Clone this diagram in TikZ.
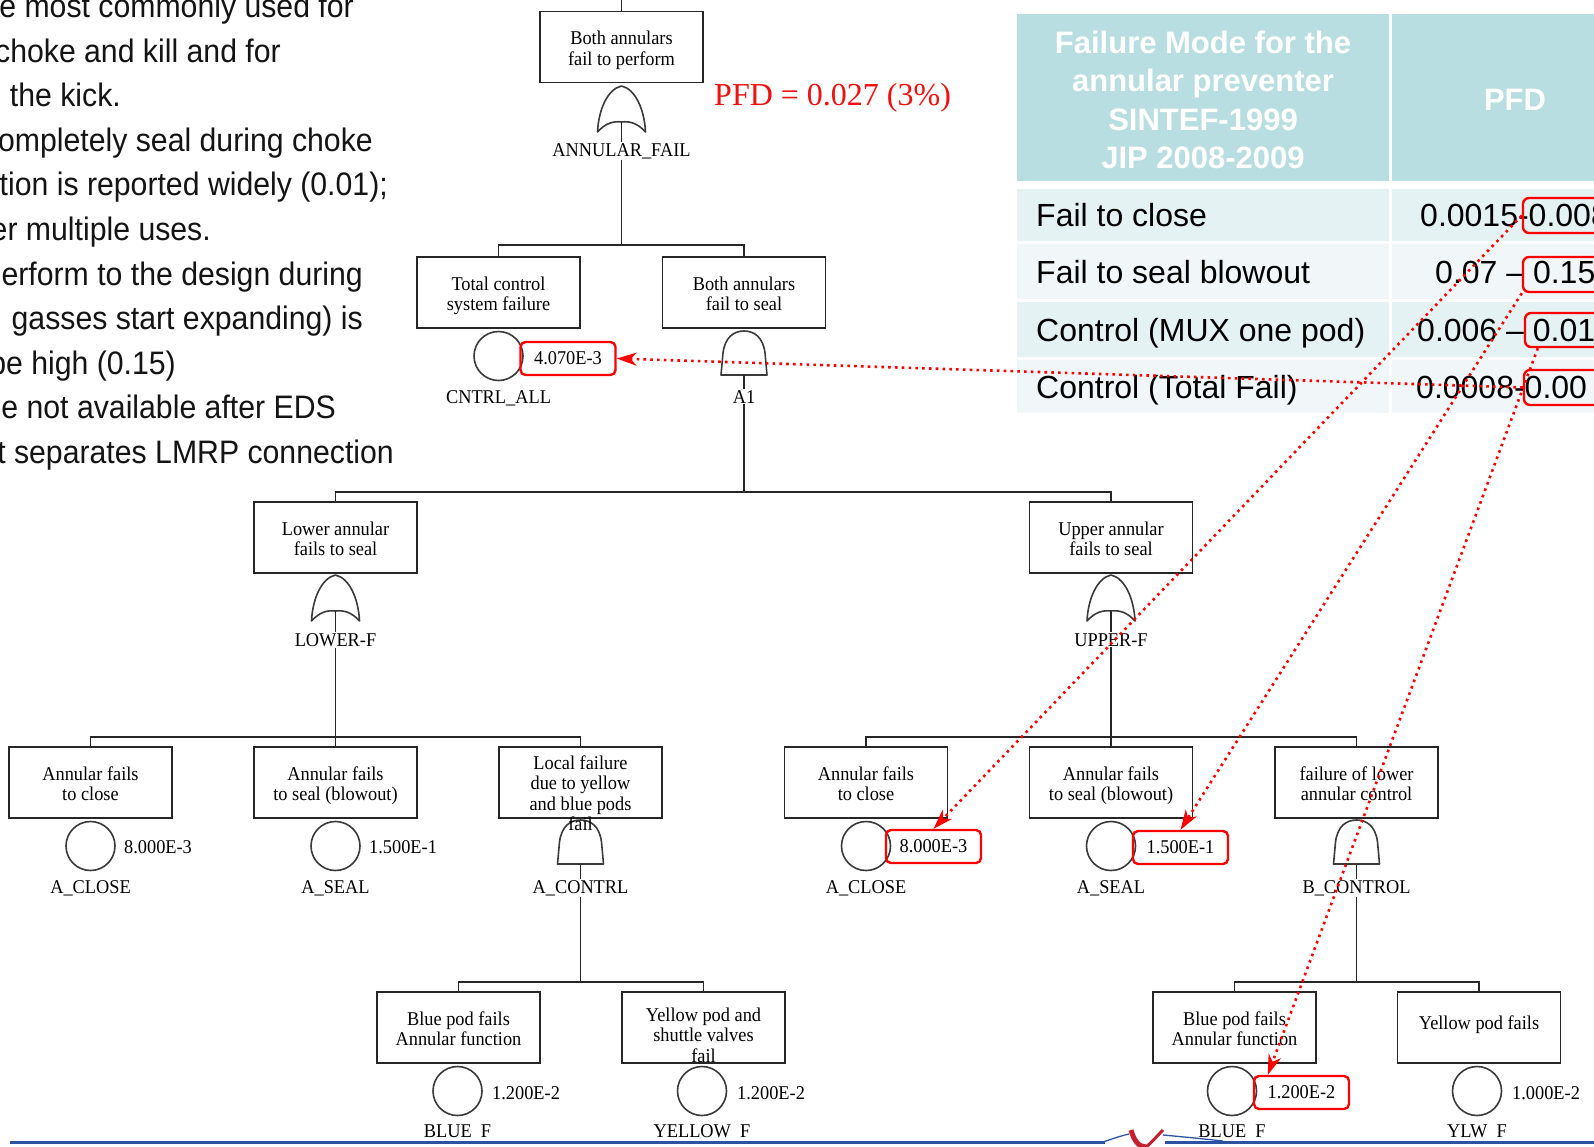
\documentclass[tikz,border=0pt]{standalone}
\usepackage{fontspec}
\setmainfont{Liberation Serif}
\newfontfamily\treef[FakeStretch=0.94]{Liberation Serif}
\newfontfamily\sansf{Liberation Sans}
\newfontfamily\narrowf[FakeStretch=0.93]{Liberation Sans}
\usetikzlibrary{arrows.meta}
\definecolor{hdrteal}{HTML}{B9DEE1}
\definecolor{rowa}{HTML}{E5F2F3}
\definecolor{rowb}{HTML}{F1F7F9}
\definecolor{treeink}{HTML}{262626}
\definecolor{gateink}{HTML}{3A3A3A}
\definecolor{boxred}{HTML}{FF0000}
\definecolor{pfdred}{HTML}{F01010}
\definecolor{lefttext}{HTML}{141414}
\definecolor{slideblue}{HTML}{2B52A3}
\definecolor{logored}{HTML}{C42030}
\newcommand\ftBox{\treef\fontsize{19.5}{20.5}\selectfont}
\newcommand\ftLab{\treef\fontsize{19.5}{21}\selectfont}
\newcommand\ftLeft{\narrowf\fontsize{32.5}{40}\selectfont}
\newcommand\ftCell{\sansf\fontsize{32}{38}\selectfont}
\newcommand\ftHdr{\sansf\bfseries\fontsize{31}{38}\selectfont}
% OR gate: #1 apex coordinate name, #2 centre x, #3 top y
\newcommand\mkORgate[3]{%
  \coordinate (#1) at (#2,#3+36);
  \draw[gate] (#2-24,#3+46) .. controls (#2-23,#3+24) and (#2-14,#3+3) .. (#2,#3)
     .. controls (#2+14,#3+3) and (#2+23,#3+24) .. (#2+24,#3+46)
     .. controls (#2+16,#3+37) and (#2+8,#3+35) .. (#1)
     .. controls (#2-8,#3+35) and (#2-16,#3+37) .. cycle;
}
% AND gate: #1 bottom-centre coordinate name, #2 centre x, #3 top y
\newcommand\mkANDgate[3]{%
  \coordinate (#1) at (#2,#3+44);
  \draw[gate] (#1) -- (#2-23,#3+44) -- (#2-21,#3+22)
     .. controls (#2-19,#3+6) and (#2-10,#3) .. (#2,#3)
     .. controls (#2+10,#3) and (#2+19,#3+6) .. (#2+21,#3+22)
     -- (#2+23,#3+44) -- cycle;
}
\begin{document}
\begin{tikzpicture}[x=1pt,y=-1pt,
  box/.style={draw=treeink, line width=1.8pt, minimum width=163pt, minimum height=71pt, inner sep=0pt, align=center, font=\ftBox, text height=36pt, text depth=-2pt},
  boxtext/.style={inner sep=0pt, align=center, font=\ftBox},
  basic/.style={circle, draw=gateink, line width=1.6pt, minimum size=49pt, inner sep=0pt},
  gate/.style={draw=gateink, line width=1.6pt, line join=round},
  wire/.style={draw=treeink, line width=1.8pt},
  stub/.style={draw=treeink, line width=1.6pt},
  lab/.style={font=\ftLab, inner sep=1pt, anchor=base},
  val/.style={font=\ftLab, inner sep=0pt, anchor=base west},
  redval/.style={draw=boxred, line width=2.4pt, rounded corners=5pt, minimum width=95pt, minimum height=33pt, inner sep=0pt, font=\ftLab},
  tbox/.style={draw=boxred, line width=2.4pt, rounded corners=6pt, inner sep=0pt},
  link/.style={draw=boxred, line width=2.6pt, dash pattern=on 2.6pt off 4.2pt, -{Stealth[length=20pt,width=13pt,inset=6pt]}},
  lefttxt/.style={anchor=base east, inner sep=0pt, font=\ftLeft, text=lefttext},
  cell/.style={anchor=base west, inner sep=0pt, font=\ftCell, text=black},
  hdr/.style={anchor=base, inner sep=0pt, font=\ftHdr, text=white},
]
\useasboundingbox (0,0) rectangle (1594,1146);
\fill[white] (0,0) rectangle (1594,1146);

% ---------------- left text (cropped slide text) ----------------
\node[lefttxt] (t1) at (354,17.5) {e most commonly used for};
\node[lefttxt] (t2) at (281,62.1) {choke and kill and for};
\node[lefttxt] (t3) at (121,106.7) {the kick.};
\node[lefttxt] (t4) at (373,151.3) {ompletely seal during choke};
\node[lefttxt] (t5) at (388,195.9) {tion is reported widely (0.01);};
\node[lefttxt] (t6) at (211,240.5) {er multiple uses.};
\node[lefttxt] (t7) at (363,285.1) {erform to the design during};
\node[lefttxt] (t8) at (363,329.7) {gasses start expanding) is};
\node[lefttxt] (t9) at (176,374.3) {be high (0.15)};
\node[lefttxt] (t10) at (336,418.9) {e not available after EDS};
\node[lefttxt] (t11) at (394,463.5) {t separates LMRP connection};

% ---------------- table ----------------
\fill[hdrteal] (1017,14) rectangle (1389,181);
\fill[hdrteal] (1392,14) rectangle (1600,181);
\fill[rowa] (1017,189) rectangle (1389,241);
\fill[rowa] (1392,189) rectangle (1600,241);
\fill[rowb] (1017,244) rectangle (1389,299);
\fill[rowb] (1392,244) rectangle (1600,299);
\fill[rowa] (1017,302) rectangle (1389,357);
\fill[rowa] (1392,302) rectangle (1600,357);
\fill[rowb] (1017,360) rectangle (1389,413);
\fill[rowb] (1392,360) rectangle (1600,413);
\node[hdr] (h1) at (1203,53) {Failure Mode for the};
\node[hdr] (h2) at (1203,91.5) {annular preventer};
\node[hdr] (h3) at (1203,130) {SINTEF-1999};
\node[hdr] (h4) at (1203,168) {JIP 2008-2009};
\node[hdr] (hPFD) at (1515,110) {PFD};
\node[cell] (r1) at (1036,226.5) {Fail to close};
\node[cell] (r2) at (1036,283.5) {Fail to seal blowout};
\node[cell] (r3) at (1036,341.5) {Control (MUX one pod)};
\node[cell] (r4) at (1036,398.5) {Control (Total Fail)};
\node[cell] (n1) at (1420,226.5) {0.0015-0.008};
\node[cell] (n2) at (1435,283.5) {0.07 – 0.15};
\node[cell] (n3) at (1417,341.5) {0.006 – 0.01};
\node[cell] (n4) at (1416,398.5) {0.0008-0.00};
\node[tbox, minimum width=127pt, minimum height=35pt] (tb1) at (1586.5,215.5) {};
\node[tbox, minimum width=127pt, minimum height=35pt] (tb2) at (1586.5,274.5) {};
\node[tbox, minimum width=125pt, minimum height=34pt] (tb3) at (1587.5,330) {};
\node[tbox, minimum width=126pt, minimum height=35pt] (tb4) at (1587,387.5) {};

% ---------------- fault tree ----------------
\node[anchor=base west, inner sep=0pt, text=pfdred, font=\fontsize{32}{36}\selectfont] (pfd) at (714,105) {PFD = 0.027 (3\%)};

% level 1
\node[box] (T) at (621.5,47) {Both annulars\\fail to perform};
\coordinate (topend) at (621.5,-3);
\draw[wire] (T.north) -- (topend);
\mkORgate{gANN}{621.5}{86}
\node[lab] (lANN) at (621.5,156) {ANNULAR\_FAIL};
\draw[stub] (gANN) -- (lANN.north);
\coordinate (bar1) at (621.5,245);
\draw[wire] (lANN.south) -- (bar1);

% level 2
\node[box] (TC) at (498.5,292.5) {Total control\\system failure};
\node[box] (BA) at (744,292.5) {Both annulars\\fail to seal};
\draw[wire] (TC.north) |- (bar1) -| (BA.north);
\node[basic] (cCN) at (498.5,356) {};
\node[redval] (vCN) at (568,358.5) {4.070E-3};
\node[lab] (lCN) at (498.5,403) {CNTRL\_ALL};
\mkANDgate{gA1}{744}{331}
\node[lab] (lA1) at (744,403) {A1};
\draw[stub] (gA1) -- (lA1.north);
\coordinate (bar2) at (744,492);
\draw[wire] (lA1.south) -- (bar2);

% level 3
\node[box] (LO) at (335.5,537.5) {Lower annular\\fails to seal};
\node[box] (UP) at (1111,537.5) {Upper annular\\fails to seal};
\draw[wire] (LO.north) |- (bar2) -| (UP.north);
\mkORgate{gLO}{335.5}{575}
\node[lab] (lLO) at (335.5,646) {LOWER-F};
\draw[stub] (gLO) -- (lLO.north);
\mkORgate{gUP}{1111}{575}
\node[lab] (lUP) at (1111,646) {UPPER-F};
\draw[stub] (gUP) -- (lUP.north);
\coordinate (bar3a) at (335.5,737);
\coordinate (bar3b) at (1111,737);
\draw[wire] (lLO.south) -- (bar3a);
\draw[wire] (lUP.south) -- (bar3b);

% level 4 (left)
\node[box] (aC1) at (90.5,782.5) {Annular fails\\to close};
\node[box] (aS1) at (335.5,782.5) {Annular fails\\to seal (blowout)};
\node[box] (LF) at (580.5,782.5) {};
\draw[wire] (aC1.north) |- (bar3a) -| (LF.north);
\draw[wire] (aS1.north) -- (bar3a);
\node[basic] (cA1) at (90.5,846) {};
\node[val] (vA1) at (124,853.5) {8.000E-3};
\node[lab] (lA1c) at (90.5,893) {A\_CLOSE};
\node[basic] (cS1) at (335.5,846) {};
\node[val] (vS1) at (369,853.5) {1.500E-1};
\node[lab] (lS1) at (335.5,893) {A\_SEAL};
\mkANDgate{gLF}{580.5}{820}
\node[boxtext] (LFt) at (580.5,793) {Local failure\\due to yellow\\and blue pods\\fail};
\node[lab] (lLF) at (580.5,893) {A\_CONTRL};
\draw[stub] (gLF) -- (lLF.north);

% level 4 (right)
\node[box] (aC2) at (866,782.5) {Annular fails\\to close};
\node[box] (aS2) at (1111,782.5) {Annular fails\\to seal (blowout)};
\node[box] (FL) at (1356.5,782.5) {failure of lower\\annular control};
\draw[wire] (aC2.north) |- (bar3b) -| (FL.north);
\draw[wire] (aS2.north) -- (bar3b);
\node[basic] (cA2) at (866,846) {};
\node[redval] (vA2) at (933.5,846.5) {8.000E-3};
\node[lab] (lA2) at (866,893) {A\_CLOSE};
\node[basic] (cS2) at (1111,846) {};
\node[redval] (vS2) at (1180.5,847.5) {1.500E-1};
\node[lab] (lS2) at (1111,893) {A\_SEAL};
\mkANDgate{gFL}{1356.5}{820}
\node[lab] (lFL) at (1356.5,893) {B\_CONTROL};
\draw[stub] (gFL) -- (lFL.north);
\coordinate (bar4a) at (580.5,982);
\coordinate (bar4b) at (1356.5,982);
\draw[wire] (lLF.south) -- (bar4a);
\draw[wire] (lFL.south) -- (bar4b);

% level 5
\node[box] (BP1) at (458.5,1027.5) {Blue pod fails\\Annular function};
\node[box] (YP1) at (703.5,1027.5) {};
\node[boxtext] (YP1t) at (703.5,1035) {Yellow pod and\\shuttle valves\\fail};
\draw[wire] (BP1.north) |- (bar4a) -| (YP1.north);
\node[box] (BP2) at (1234.5,1027.5) {Blue pod fails\\Annular function};
\node[box, text height=13pt, text depth=9pt] (YP2) at (1479,1027.5) {Yellow pod fails};
\draw[wire] (BP2.north) |- (bar4b) -| (YP2.north);
\node[basic] (cB1) at (457.5,1091) {};
\node[val] (vB1) at (492,1099.5) {1.200E-2};
\node[lab] (lB1) at (457.5,1137) {BLUE\_F};
\node[basic] (cY1) at (702,1091) {};
\node[val] (vY1) at (737,1099.5) {1.200E-2};
\node[lab] (lY1) at (702,1137) {YELLOW\_F};
\node[basic] (cB2) at (1232,1091) {};
\node[redval] (vBP2) at (1301.5,1092.5) {1.200E-2};
\node[lab] (lB2) at (1232,1137) {BLUE\_F};
\node[basic] (cY2) at (1477,1091) {};
\node[val] (vY2) at (1512,1099.5) {1.000E-2};
\node[lab] (lY2) at (1477,1137) {YLW\_F};

% ---------------- slide footer ----------------
\fill[white] (0,1137.8) rectangle (1600,1146);
\draw[slideblue, line width=3pt] (10,1142) -- (1105,1142);
\draw[slideblue, line width=3pt] (1165,1142) -- (1600,1142);
\draw[slideblue, line width=1.3pt] (1103,1142) .. controls (1112,1139) and (1120,1136) .. (1129,1134);
\draw[slideblue, line width=1.3pt] (1163,1135) .. controls (1185,1137) and (1205,1139) .. (1223,1141);
\draw[logored, line width=5pt] (1131,1130) .. controls (1134,1141) and (1139,1147) .. (1146,1147);
\draw[logored, line width=3pt] (1146,1147) .. controls (1152,1142) and (1158,1135) .. (1163,1130);

% ---------------- red dotted links ----------------
\draw[link] (tb4.west) -- (vCN.east);
\draw[link] (tb1.west) -- (vA2.north);
\draw[link] (tb2.south west) -- (vS2.north);
\draw[link] ([xshift=14pt]tb3.south west) -- ([xshift=15pt]vBP2.north west);
\end{tikzpicture}
\end{document}
